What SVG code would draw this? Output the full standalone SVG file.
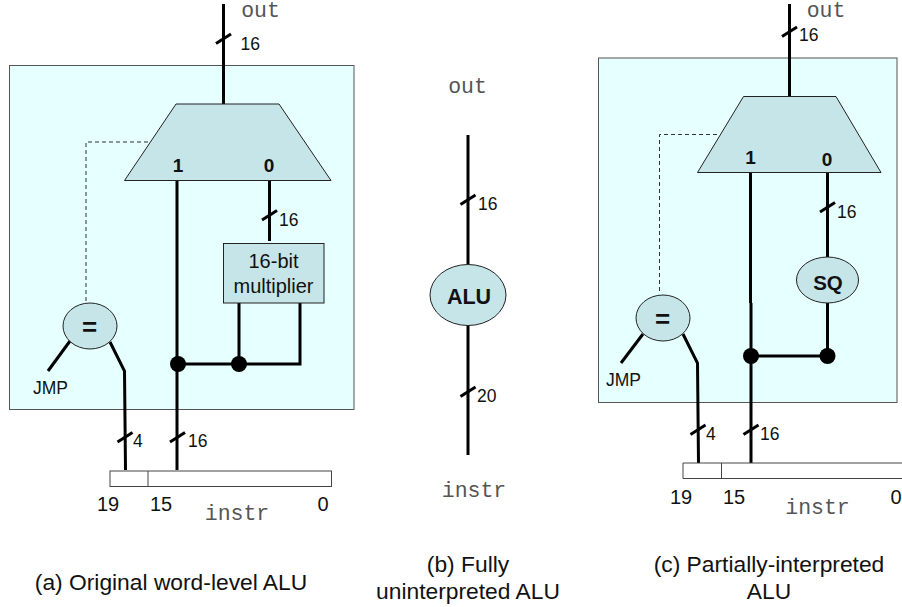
<svg xmlns="http://www.w3.org/2000/svg" width="902" height="607" viewBox="0 0 902 607">
<style>
text{font-family:"Liberation Sans",Arial,sans-serif;fill:#111}
.t{font-size:17.500px}
.b{font-size:19px;font-weight:bold;text-anchor:middle}
.e{font-size:26px;font-weight:bold;text-anchor:middle}
.m{font-family:"Liberation Mono","Courier New",monospace;font-size:21.500px;fill:#555;text-anchor:middle}
.c{font-size:20px;text-anchor:middle}
.n{font-size:20px;text-anchor:middle}
.cap{font-size:22.800px;text-anchor:middle}
.panel{fill:#e6ffff;stroke:#555;stroke-width:1}
.part{fill:#c5e5e8;stroke:#222;stroke-width:1}
.reg{fill:#fff;stroke:#444;stroke-width:1}
.w{fill:none;stroke:#000;stroke-width:3}
.d{fill:none;stroke:#333;stroke-width:1;stroke-dasharray:4 3}
.dot{fill:#000}
</style>
<defs><path id="tick" d="M-7.500 5L7.500 -4.500" class="w"/></defs>
<g id="panel-a"><rect class="panel" x="9.500" y="65.500" width="344.500" height="344"/></g>
<g id="panel-c"><rect class="panel" x="598.500" y="58" width="298.500" height="344.500"/></g>
<g id="connectors">
<path class="w" d="M223.500 4V104"/><use href="#tick" x="223.500" y="38.500"/>
<path class="w" d="M177 180V470"/>
<path class="w" d="M269.500 180V241"/><use href="#tick" x="269.500" y="215"/>
<path class="w" d="M239 303V364M300 303V364H178"/>
<path class="d" d="M148 142H86V302"/>
<path class="w" d="M70 341L48 371"/>
<path class="w" d="M110 342L124.500 371L125.500 470"/>
<use href="#tick" x="125" y="437"/><use href="#tick" x="177.500" y="437"/>
<path class="w" d="M468 135V264M468 325V455"/>
<use href="#tick" x="468" y="199.500"/><use href="#tick" x="468" y="391.500"/>
<path class="w" d="M789.500 4V96"/><use href="#tick" x="789.500" y="31.500"/>
<path class="w" d="M750.500 173V303M751 303V463"/>
<path class="w" d="M827.500 173V257"/><use href="#tick" x="827.500" y="207"/>
<path class="w" d="M827.500 303V356H751"/>
<path class="d" d="M717 134.500H659.500V294"/>
<path class="w" d="M643 334L621 363"/>
<path class="w" d="M683 334L697.500 363L698.500 463"/>
<use href="#tick" x="698" y="429.500"/><use href="#tick" x="751" y="429.500"/>
</g>
<g id="mux-a"><path class="part" d="M176 104H279L331 180.500H124.500Z"/><text class="b" x="178" y="172">1</text><text class="b" x="269" y="172">0</text></g>
<g id="multiplier"><rect class="part" x="223.500" y="243.500" width="100.500" height="59.500" stroke="#555"/><text class="c" x="273.500" y="268">16-bit</text><text class="c" x="273.500" y="293">multiplier</text></g>
<g id="eq-a"><ellipse class="part" cx="90" cy="326" rx="27" ry="23"/><text class="e" x="89.500" y="336">=</text></g>
<g id="dots-a"><circle class="dot" cx="178" cy="364" r="8"/><circle class="dot" cx="239" cy="364" r="8"/></g>
<g id="instr-a"><rect class="reg" x="110" y="471" width="221.500" height="15.500"/><path class="reg" d="M148 471V486.500"/></g>
<g id="alu"><ellipse class="part" cx="468" cy="295" rx="38" ry="30.500"/><text x="469" y="304" style="font-size:21.500px;font-weight:bold;text-anchor:middle">ALU</text></g>
<g id="mux-c"><path class="part" d="M743.500 96.500H836L881 172.500H697.500Z"/><text class="b" x="750.500" y="164">1</text><text class="b" x="827" y="166">0</text></g>
<g id="sq"><ellipse class="part" cx="827.500" cy="280" rx="31" ry="23"/><text x="828" y="290" style="font-size:20.500px;font-weight:bold;text-anchor:middle">SQ</text></g>
<g id="eq-c"><ellipse class="part" cx="663" cy="318" rx="27" ry="23"/><text class="e" x="662.500" y="328">=</text></g>
<g id="dots-c"><circle class="dot" cx="751" cy="356" r="8"/><circle class="dot" cx="827.500" cy="356" r="8"/></g>
<g id="instr-c"><path class="reg" d="M905 463H683V478.500H905M721.500 463V478.500"/></g>
<g id="labels">
<text class="m" x="260.500" y="17">out</text><text class="t" x="240.500" y="50">16</text>
<text class="t" x="279" y="226">16</text><text class="t" x="33" y="394">JMP</text>
<text class="t" x="133" y="447">4</text><text class="t" x="188" y="447">16</text>
<text class="n" x="108" y="511">19</text><text class="n" x="161" y="511">15</text><text class="n" x="323" y="511">0</text>
<text class="m" x="237" y="520">instr</text>
<text class="m" x="467.500" y="93">out</text><text class="t" x="478" y="210">16</text><text class="t" x="477" y="402">20</text><text class="m" x="474" y="497">instr</text>
<text class="m" x="826" y="17">out</text><text class="t" x="799" y="41">16</text>
<text class="t" x="837" y="218">16</text><text class="t" x="606" y="386">JMP</text>
<text class="t" x="706" y="440">4</text><text class="t" x="760" y="440">16</text>
<text class="n" x="681" y="504">19</text><text class="n" x="734" y="504">15</text><text class="n" x="896" y="504">0</text>
<text class="m" x="817.500" y="514">instr</text>
<text class="cap" x="171" y="590">(a) Original word-level ALU</text>
<text class="cap" x="468" y="572">(b) Fully</text><text class="cap" x="468" y="599">uninterpreted ALU</text>
<text class="cap" x="769" y="572">(c) Partially-interpreted</text><text class="cap" x="769" y="599">ALU</text>
</g>
</svg>
